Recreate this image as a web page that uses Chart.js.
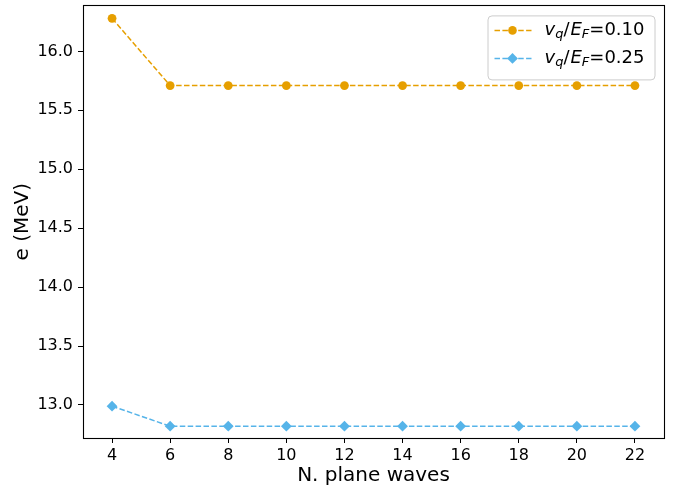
<!DOCTYPE html>
<html>
<head>
<meta charset="utf-8">
<script src="https://cdn.jsdelivr.net/npm/chart.js@4"></script>
<style>
  html,body{margin:0;padding:0;background:#fff;}
  #wrap{width:683px;height:490px;}
</style>
</head>
<body>
<div id="wrap"><canvas id="c" width="683" height="490"></canvas></div>
<script>
/* ---- data ---- */
const nWaves = [4, 6, 8, 10, 12, 14, 16, 18, 20, 22];
const eLow  = [16.28, 15.71, 15.71, 15.71, 15.71, 15.71, 15.71, 15.71, 15.71, 15.71]; // vq/EF = 0.10
const eHigh = [12.99, 12.82, 12.82, 12.82, 12.82, 12.82, 12.82, 12.82, 12.82, 12.82]; // vq/EF = 0.25
const xTicks = [4, 6, 8, 10, 12, 14, 16, 18, 20, 22];
const yTicks = [13.0, 13.5, 14.0, 14.5, 15.0, 15.5, 16.0];
const seriesLabels = ["0.10", "0.25"];

const ORANGE = "#E69F00", BLUE = "#56B4E9";
const FONT = "'DejaVu Sans', sans-serif";
const pts = ys => nWaves.map((x, i) => ({x, y: ys[i]}));

/* frame on all four sides */
const frame = {
  id: "frame",
  afterDraw(chart){
    const {ctx, chartArea: a} = chart;
    ctx.save();
    ctx.strokeStyle = "#000"; ctx.lineWidth = 1.1;
    ctx.strokeRect(Math.round(a.left) + .5, Math.round(a.top) + .5,
                   Math.round(a.right - a.left), Math.round(a.bottom - a.top));
    ctx.restore();
  }
};

/* legend with subscripted labels */
function drawLabel(ctx, x, y, val){
  const sz = 18, sub = 13;
  const parts = [
    ["v", "italic", sz, 0], ["q", "italic", sub, 4], ["/", "normal", sz, 0],
    ["E", "italic", sz, 0], ["F", "italic", sub, 4], ["=" + val, "normal", sz, 0]
  ];
  ctx.textBaseline = "middle"; ctx.textAlign = "left"; ctx.fillStyle = "#000";
  parts.forEach(([t, st, s, dy], i) => {
    ctx.font = `${st} ${s}px ${FONT}`;
    ctx.fillText(t, x, y + dy);
    x += ctx.measureText(t).width + (i === 2 ? 1 : 0);
  });
}
function marker(ctx, shape, x, y, col){
  ctx.fillStyle = col;
  ctx.beginPath();
  if (shape === "circle") ctx.arc(x, y, 4.3, 0, Math.PI * 2);
  else { const r = 5.4; ctx.moveTo(x - r, y); ctx.lineTo(x, y - r); ctx.lineTo(x + r, y); ctx.lineTo(x, y + r); ctx.closePath(); }
  ctx.fill();
}
const legendBox = {
  id: "legendBox",
  afterDraw(chart){
    const {ctx, chartArea: a} = chart;
    const w = 167, h = 64, x = a.right - 9.5 - w, y = a.top + 10;
    ctx.save();
    ctx.beginPath(); ctx.roundRect(x + .5, y + .5, w, h, 4);
    ctx.fillStyle = "rgba(255,255,255,0.8)"; ctx.fill();
    ctx.strokeStyle = "#cccccc"; ctx.lineWidth = 1; ctx.stroke();
    const rows = [[ORANGE, "circle"], [BLUE, "diamond"]];
    rows.forEach(([col, shape], i) => {
      const ry = y + 15 + i * 28;
      ctx.strokeStyle = col; ctx.lineWidth = 1.5; ctx.setLineDash([5.5, 2.4]);
      ctx.beginPath(); ctx.moveTo(x + 7, ry); ctx.lineTo(x + 44, ry); ctx.stroke();
      ctx.setLineDash([]);
      marker(ctx, shape, x + 25, ry, col);
      drawLabel(ctx, x + 57, ry, seriesLabels[i]);
    });
    ctx.restore();
  }
};

const tickFont = {family: FONT, size: 16};
const titleFont = {family: FONT, size: 20};

new Chart(document.getElementById("c"), {
  type: "scatter",
  data: {
    datasets: [
      {label: "vq/EF=0.10", data: pts(eLow), showLine: true, borderColor: ORANGE, backgroundColor: ORANGE,
       borderWidth: 1.5, borderDash: [5.5, 2.4], pointStyle: "circle", pointRadius: 4.4, pointBorderWidth: 0},
      {label: "vq/EF=0.25", data: pts(eHigh), showLine: true, borderColor: BLUE, backgroundColor: BLUE,
       borderWidth: 1.5, borderDash: [5.5, 2.4], pointStyle: "rectRot", pointRadius: 5.4, pointBorderWidth: 0}
    ]
  },
  options: {
    responsive: false, animation: false,
    layout: {padding: {top: 5, right: 19, left: 0, bottom: 0}},
    plugins: {legend: {display: false}, tooltip: {enabled: false}},
    scales: {
      x: {
        type: "linear", min: 3, max: 23,
        afterBuildTicks: s => { s.ticks = xTicks.map(v => ({value: v})); },
        afterFit: s => { s.height = 52; s.paddingLeft = 0; s.paddingRight = 0; },
        border: {display: false},
        grid: {drawOnChartArea: false, drawTicks: true, tickLength: 5, color: "#000", tickWidth: 1},
        ticks: {font: tickFont, color: "#000", padding: 3, maxRotation: 0, callback: v => String(v)},
        title: {display: true, text: "N. plane waves", font: titleFont, color: "#000", padding: {top: 0, bottom: 2}}
      },
      y: {
        min: 12.72, max: 16.39,
        afterBuildTicks: s => { s.ticks = yTicks.map(v => ({value: v})); },
        afterFit: s => { s.width = 83; s.paddingTop = 0; s.paddingBottom = 0; },
        border: {display: false},
        grid: {drawOnChartArea: false, drawTicks: true, tickLength: 5, color: "#000", tickWidth: 1},
        ticks: {font: tickFont, color: "#000", padding: 5, callback: v => v.toFixed(1)},
        title: {display: true, text: "e (MeV)", font: titleFont, color: "#000", padding: {top: 11, bottom: 0}}
      }
    }
  },
  plugins: [frame, legendBox]
});
</script>
</body>
</html>
